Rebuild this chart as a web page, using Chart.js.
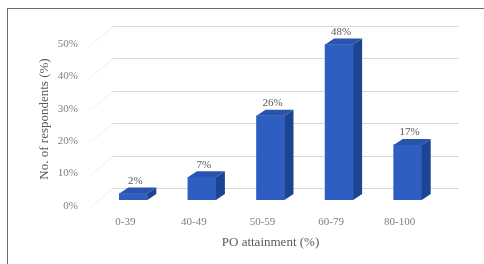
<!DOCTYPE html>
<html>
<head>
<meta charset="utf-8">
<script src="https://cdn.jsdelivr.net/npm/chart.js@4.4.0/dist/chart.umd.min.js"></script>
<style>
  html, body { margin: 0; padding: 0; background: #fff; }
  #wrap { position: relative; width: 484px; height: 264px; }
  #frame { position: absolute; left: 7px; top: 8px; right: 0; bottom: 0;
           border-left: 1px solid #6e6e6e; border-top: 1px solid #6e6e6e; }
  canvas { position: absolute; left: 0; top: 0; }
</style>
</head>
<body>
<div id="wrap">
  <div id="frame"></div>
  <canvas id="grafica" width="484" height="264"></canvas>
</div>
<script>
// datos
var categorias = ['0-39', '40-49', '50-59', '60-79', '80-100']
var valores = [2, 7, 26, 48, 17]
var ticksY = [0, 10, 20, 30, 40, 50]

// profundidad del efecto 3D
var prof = { dx: 9, dy: -6 }
var pared = { dx: 14, dy: -12 }

var serif = '"Liberation Serif", "DejaVu Serif", serif'

// rejilla en la pared del fondo
var rejilla3d = {
  id: 'rejilla3d',
  beforeDatasetsDraw(chart) {
    var c = chart.ctx, a = chart.chartArea, y = chart.scales.y
    c.save()
    c.lineWidth = 1
    ticksY.forEach(function (t) {
      var py = Math.round(y.getPixelForValue(t) + pared.dy) + 0.5
      c.strokeStyle = '#d9d9d9'
      c.beginPath()
      c.moveTo(a.left + pared.dx, py)
      c.lineTo(a.right + pared.dx + 3, py)
      c.stroke()
      c.strokeStyle = '#efefef'
      c.beginPath()
      c.moveTo(a.left - 9, py - pared.dy + 7)
      c.lineTo(a.left + pared.dx, py)
      c.stroke()
    })
    c.restore()
  }
}

// caras lateral y superior de cada barra, mas la etiqueta
var barras3d = {
  id: 'barras3d',
  afterDatasetsDraw(chart) {
    var c = chart.ctx
    var meta = chart.getDatasetMeta(0)
    c.save()
    meta.data.forEach(function (bar, i) {
      var p = bar.getProps(['x', 'y', 'base', 'width'], true)
      var l = p.x - p.width / 2, r = p.x + p.width / 2
      c.fillStyle = '#1d4393'
      c.beginPath()
      c.moveTo(r, p.y)
      c.lineTo(r + prof.dx, p.y + prof.dy)
      c.lineTo(r + prof.dx, p.base + prof.dy)
      c.lineTo(r, p.base)
      c.closePath()
      c.fill()
      c.fillStyle = '#2a53ad'
      c.beginPath()
      c.moveTo(l, p.y)
      c.lineTo(l + prof.dx, p.y + prof.dy)
      c.lineTo(r + prof.dx, p.y + prof.dy)
      c.lineTo(r, p.y)
      c.closePath()
      c.fill()
      c.fillStyle = '#595959'
      c.font = '11px ' + serif
      c.textAlign = 'center'
      c.textBaseline = 'bottom'
      c.fillText(valores[i] + '%', p.x + 2, p.y + prof.dy - 1)
    })
    c.restore()
  }
}

var ctx = document.getElementById('grafica')

var grafica = new Chart(ctx, {
  type: 'bar',
  data: {
    labels: categorias,
    datasets: [{
      data: valores,
      backgroundColor: '#2f5ec2',
      borderWidth: 0,
      barThickness: 28
    }]
  },
  options: {
    responsive: false,
    animation: false,
    layout: { padding: { left: 0, right: 42, top: 38, bottom: 0 } },
    plugins: { legend: { display: false }, tooltip: { enabled: false } },
    scales: {
      x: {
        grid: { display: false },
        border: { display: false },
        ticks: {
          color: '#7f7f7f',
          font: { family: serif, size: 11 },
          padding: 8,
          labelOffset: -8
        },
        title: {
          display: true,
          text: 'PO attainment (%)',
          color: '#595959',
          font: { family: serif, size: 13 },
          padding: { top: 4, bottom: 14 }
        },
        afterFit: function (s) { s.height = 64 }
      },
      y: {
        min: 0,
        max: 50,
        grid: { display: false },
        border: { display: false },
        afterBuildTicks: function (s) { s.ticks = ticksY.map(function (v) { return { value: v } }) },
        ticks: {
          color: '#7f7f7f',
          font: { family: serif, size: 11 },
          padding: 13,
          labelOffset: 6,
          callback: function (v) { return v + '%' }
        },
        title: {
          display: true,
          text: 'No. of respondents (%)',
          color: '#595959',
          font: { family: serif, size: 13 },
          padding: { top: 37, bottom: 0 }
        },
        afterFit: function (s) { s.width = 99 }
      }
    }
  },
  plugins: [rejilla3d, barras3d]
})
</script>
</body>
</html>
